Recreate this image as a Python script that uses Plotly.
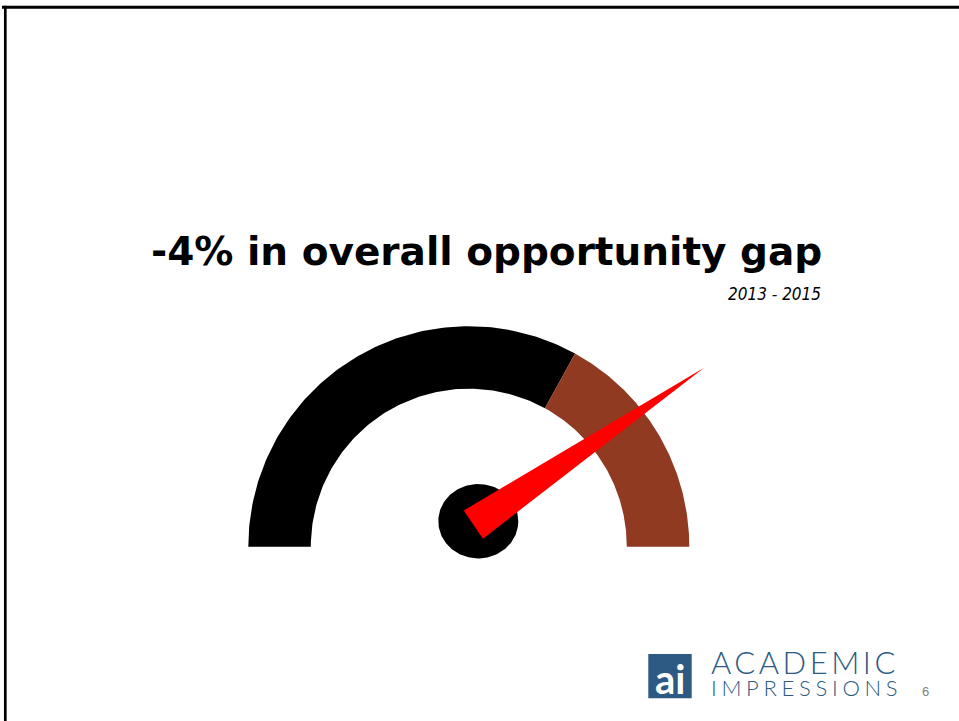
import numpy as np
import plotly.graph_objects as go

# ---- data ----
segment_names = ["Gap remaining", "Gap closed"]
segment_values = [66, 34]          # share of the dial, left to right
segment_colors = ["#000000", "#903a22"]
needle_value = 81                  # position of the needle on a 0-100 dial
dial_max = 100

title_text = "-4% in overall opportunity gap"
subtitle_text = "2013 - 2015"
brand_lines = ["ACADEMIC", "IMPRESSIONS"]
page_number = "6"

# ---- geometry (pixel-like canvas, y up) ----
W, H = 959, 721
cx, cy = 468.8, H - 546.7          # dial centre
r_out, r_in = 220.5, 158.0         # dial ring radii
hub_x, hub_y = 478.3, H - 521.2    # needle hub
hub_rx, hub_ry = 40.0, 37.2
needle_len, needle_back, needle_half = 273.0, 6.0, 17.0


def value_to_angle(v):
    return np.pi * (1 - v / dial_max)


def ring_sector(a1, a2, n=120):
    t = np.linspace(a1, a2, n)
    xo, yo = cx + r_out * np.cos(t), cy + r_out * np.sin(t)
    xi, yi = cx + r_in * np.cos(t[::-1]), cy + r_in * np.sin(t[::-1])
    return np.r_[xo, xi, xo[:1]], np.r_[yo, yi, yo[:1]]


fig = go.Figure()

start = 0.0
for name, val, col in zip(segment_names, segment_values, segment_colors):
    a1 = value_to_angle(start)
    a2 = value_to_angle(start + val)
    xs, ys = ring_sector(a1, a2)
    fig.add_trace(go.Scatter(x=xs, y=ys, fill="toself", fillcolor=col,
                             mode="lines", line=dict(width=0, color=col),
                             name=name, hoverinfo="name"))
    start += val

# hub
t = np.linspace(0, 2 * np.pi, 160)
fig.add_trace(go.Scatter(x=hub_x + hub_rx * np.cos(t), y=hub_y + hub_ry * np.sin(t),
                         fill="toself", fillcolor="#000000", mode="lines",
                         line=dict(width=0, color="#000000"), hoverinfo="skip"))

# needle
ang = value_to_angle(needle_value)
ux, uy = np.cos(ang), np.sin(ang)
px, py = -uy, ux
bx, by = hub_x - needle_back * ux, hub_y - needle_back * uy
nx = [bx + needle_half * px, hub_x + needle_len * ux, bx - needle_half * px, bx + needle_half * px]
ny = [by + needle_half * py, hub_y + needle_len * uy, by - needle_half * py, by + needle_half * py]
fig.add_trace(go.Scatter(x=nx, y=ny, fill="toself", fillcolor="#ff0000", mode="lines",
                         line=dict(width=0, color="#ff0000"), name="Needle",
                         hoverinfo="name"))

logo_blue = "#2c5a82"
brand_text = (
    '<span style="font-size:31px;letter-spacing:3.5px">' + brand_lines[0] + "</span><br>"
    '<span style="font-size:22px;letter-spacing:4.7px">' + brand_lines[1] + "</span>"
)

annotations = [
    dict(x=486, y=H - 266.7, text="<b>" + title_text + "</b>", xref="x", yref="y",
         xanchor="center", yanchor="bottom", yshift=-9, showarrow=False,
         font=dict(family="DejaVu Sans", size=39, color="#000000")),
    dict(x=823, y=H - 302.3, text="<i>" + subtitle_text + "</i>", xref="x", yref="y",
         xanchor="right", yanchor="bottom", yshift=-4, showarrow=False,
         font=dict(family="DejaVu Sans Condensed, DejaVu Sans", size=17, color="#000000")),
    dict(x=670, y=H - 698.5, text="<b>ai</b>", xref="x", yref="y",
         xanchor="center", yanchor="bottom", yshift=-6, showarrow=False,
         font=dict(family="Lato", size=40, color="#ffffff")),
    dict(x=709, y=H - 699, text=brand_text, xref="x", yref="y", align="left",
         xanchor="left", yanchor="bottom", yshift=-4, showarrow=False,
         font=dict(family="Lato", size=16.7, color=logo_blue, weight=300)),
    dict(x=925, y=H - 698, text=page_number, xref="x", yref="y",
         xanchor="center", yanchor="bottom", yshift=-3, showarrow=False,
         font=dict(family="Liberation Sans", size=13, color="#7f7f7f")),
]

shapes = [
    # logo block
    dict(type="rect", xref="x", yref="y", x0=648.3, x1=691.7, y0=H - 698.3, y1=H - 654,
         fillcolor=logo_blue, line=dict(width=0), layer="below"),
    # slide frame: top and left rules
    dict(type="line", xref="x", yref="y", x0=2, x1=W, y0=H - 7.3, y1=H - 7.3,
         line=dict(color="#000000", width=3)),
    dict(type="line", xref="x", yref="y", x0=5.3, x1=5.3, y0=H - 5.8, y1=0,
         line=dict(color="#000000", width=2.7)),
]

fig.update_layout(
    width=W, height=H, autosize=False,
    margin=dict(l=0, r=0, t=0, b=0),
    paper_bgcolor="#ffffff", plot_bgcolor="#ffffff",
    showlegend=False,
    xaxis=dict(range=[0, W], visible=False, fixedrange=True),
    yaxis=dict(range=[0, H], visible=False, fixedrange=True),
    annotations=annotations,
    shapes=shapes,
)

fig.write_html("out.html", config={"displayModeBar": False})
